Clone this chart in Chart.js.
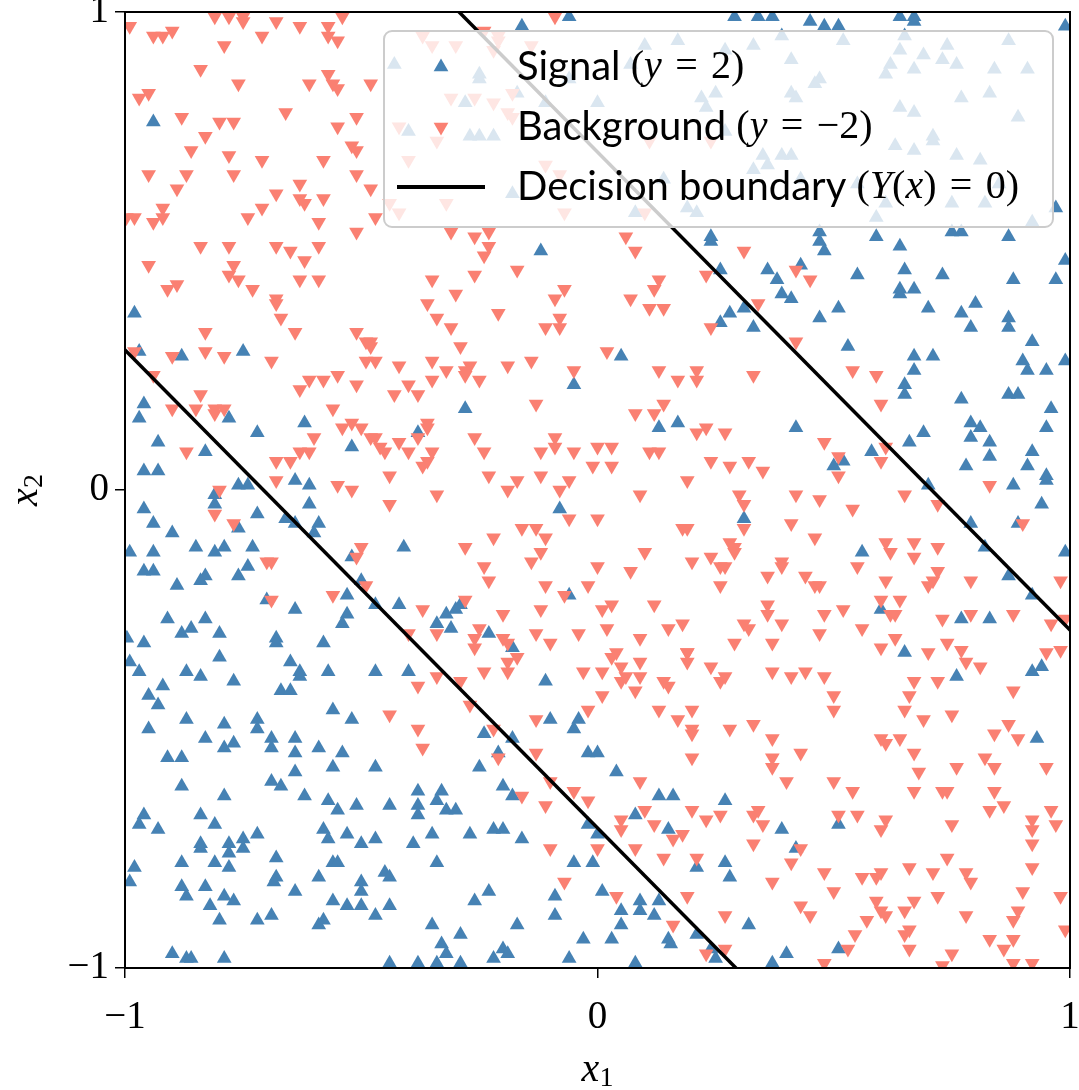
<!DOCTYPE html>
<html>
<head>
<meta charset="utf-8">
<script src="https://cdn.jsdelivr.net/npm/chart.js@4.4.0/dist/chart.umd.min.js"></script>
<style>
  html, body { margin: 0; padding: 0; background: #fff; }
</style>
</head>
<body>
<canvas id="scatter" width="1079" height="1090"></canvas>
<script>
// signal events (y = 2), [x1, x2]
const signalPoints = [
  [-0.94,0.77],[-0.98,0.37],
  [-0.06,0.99],[-0.16,0.97],[-0.12,0.50],[-0.43,0.89],[-0.25,0.87],[-0.25,0.86],[-0.28,0.81],[-0.40,0.75],
  [-0.27,0.74],[-0.25,0.74],[-0.22,0.74],[-0.18,0.62],[-0.17,0.83],[-0.11,0.81],[-0.06,0.86],[0.00,0.81],
  [0.29,0.99],[0.34,0.99],[0.37,0.99],[0.45,0.98],[0.48,0.97],[0.51,0.97],[0.17,0.94],[0.10,0.93],[0.27,0.92],
  [0.33,0.93],[0.39,0.95],[0.41,0.90],[0.47,0.86],[0.46,0.85],[0.07,0.89],[0.22,0.82],[0.25,0.83],[0.23,0.80],
  [0.41,0.83],[0.42,0.82],[0.27,0.75],[0.35,0.70],[0.33,0.67],[0.36,0.68],[0.39,0.70],[0.41,0.70],[0.43,0.65],
  [0.14,0.65],[0.08,0.58],[0.19,0.59],[0.21,0.58],[0.24,0.53],[0.24,0.52],[0.47,0.54],[0.47,0.52],[0.48,0.50],
  [0.26,0.46],[0.36,0.46],[0.38,0.44],[0.43,0.47],[0.39,0.41],[0.41,0.40],[0.31,0.38],[0.28,0.37],[0.26,0.35],
  [0.33,0.34],[0.51,0.38],[0.47,0.36],
  [0.64,0.99],[0.67,0.99],[0.67,0.98],[0.99,0.97],[0.52,0.94],[0.65,0.95],[0.64,0.92],[0.69,0.91],[0.74,0.93],
  [0.73,0.90],[0.76,0.89],[0.62,0.89],[0.61,0.87],[0.67,0.88],[0.87,0.94],[0.84,0.88],[0.91,0.88],[0.77,0.82],
  [0.83,0.83],[0.64,0.80],[0.67,0.79],[0.89,0.78],[0.71,0.74],[0.71,0.73],[0.63,0.72],[0.67,0.71],[0.76,0.70],
  [0.81,0.69],[0.55,0.64],[0.61,0.60],[0.59,0.57],[0.75,0.60],[0.82,0.60],[0.85,0.64],[0.92,0.56],[0.97,0.59],
  [0.59,0.53],[0.75,0.54],[0.77,0.54],[0.87,0.53],[0.64,0.51],[0.55,0.45],[0.65,0.46],[0.73,0.45],[0.88,0.44],
  [0.97,0.44],[0.64,0.42],[0.67,0.42],[0.64,0.41],[0.70,0.38],[0.80,0.39],[0.77,0.37],[0.87,0.36],[0.79,0.34],
  [0.87,0.34],[0.99,0.48],
  [-0.97,0.29],[-0.88,0.28],[-0.75,0.29],[-0.96,0.18],[-0.97,0.15],[-0.78,0.15],[-0.72,0.12],[-0.93,0.10],
  [-0.62,0.14],[-0.52,0.09],[-0.83,0.08],[-0.96,0.04],[-0.93,0.04],[-0.76,0.01],[-0.74,0.01],[-0.64,0.02],
  [-0.61,0.01],[-0.81,-0.01],[-0.81,-0.03],[-0.96,-0.04],[-0.94,-0.07],[-0.90,-0.09],[-0.72,-0.05],[-0.66,-0.06],
  [-0.64,-0.07],[-0.61,-0.03],[-0.59,-0.07],[-0.60,-0.09],[-0.76,-0.08],[-0.99,-0.13],[-0.94,-0.13],[-0.85,-0.12],
  [-0.81,-0.13],[-0.79,-0.12],[-0.73,-0.12],[-0.96,-0.17],[-0.94,-0.17],[-0.83,-0.18],[-0.84,-0.19],[-0.89,-0.20],
  [-0.76,-0.18],[-0.74,-0.16],[-0.53,-0.22],[-0.70,-0.23],[-0.64,-0.25],[-0.53,-0.26],[-0.54,-0.28],[-0.91,-0.27],
  [-0.83,-0.27],[-0.88,-0.30],[-0.86,-0.29],[-0.80,-0.30],[-0.68,-0.31],[-0.68,-0.32],[-0.58,-0.32],[-0.996,-0.31],
  [-0.96,-0.32],[-0.52,-0.14],[-0.50,-0.19],
  [-0.05,0.22],[-0.28,0.17],[-0.38,0.12],[-0.08,-0.04],[-0.41,-0.12],[-0.47,-0.24],[-0.42,-0.24],[-0.34,-0.28],
  [-0.32,-0.26],[-0.30,-0.25],[-0.29,-0.24],[-0.31,-0.29],[-0.23,-0.30],[-0.18,-0.33],[-0.06,-0.22],
  [0.05,0.28],[0.13,0.13],[0.17,0.14],[0.42,0.13],[0.50,0.05],[0.52,0.06],[0.31,-0.06],
  [0.53,0.30],[0.67,0.28],[0.67,0.25],[0.71,0.28],[0.90,0.27],[0.91,0.25],[0.92,0.31],[0.95,0.25],[0.99,0.27],
  [0.65,0.22],[0.65,0.20],[0.77,0.19],[0.87,0.20],[0.89,0.20],[0.96,0.17],[0.95,0.13],[0.79,0.14],[0.81,0.13],
  [0.79,0.11],[0.83,0.10],[0.83,0.07],[0.69,0.12],[0.66,0.10],[0.58,0.08],[0.78,0.05],[0.92,0.08],[0.91,0.05],
  [0.95,0.03],[0.95,0.02],[0.88,0.01],[0.70,0.01],[0.94,-0.03],[0.89,-0.07],[0.79,-0.07],[0.82,-0.12],[0.56,-0.13],
  [0.99,-0.13],[0.87,-0.18],[0.92,-0.22],[0.60,-0.25],[0.77,-0.27],[0.83,-0.27],[0.65,-0.34],
  [-0.99,-0.36],[-0.97,-0.38],[-0.87,-0.38],[-0.84,-0.39],[-0.80,-0.35],[-0.92,-0.41],[-0.77,-0.40],[-0.95,-0.43],
  [-0.93,-0.45],[-0.95,-0.50],[-0.87,-0.48],[-0.83,-0.52],[-0.79,-0.49],[-0.77,-0.53],[-0.79,-0.54],[-0.91,-0.56],
  [-0.88,-0.56],[-0.72,-0.48],[-0.72,-0.50],[-0.69,-0.52],[-0.69,-0.54],[-0.64,-0.52],[-0.64,-0.55],[-0.67,-0.42],
  [-0.65,-0.42],[-0.65,-0.36],[-0.63,-0.38],[-0.63,-0.39],[-0.57,-0.38],[-0.56,-0.46],[-0.52,-0.48],[-0.59,-0.54],
  [-0.54,-0.55],[-0.56,-0.58],[-0.64,-0.59],[-0.69,-0.61],[-0.67,-0.62],[-0.62,-0.64],[-0.57,-0.65],[-0.55,-0.67],
  [-0.51,-0.66],[-0.88,-0.62],[-0.79,-0.64],[-0.84,-0.68],[-0.81,-0.70],[-0.96,-0.68],[-0.97,-0.70],[-0.93,-0.71],
  [-0.84,-0.74],[-0.84,-0.75],[-0.78,-0.74],[-0.78,-0.76],[-0.75,-0.73],[-0.75,-0.75],[-0.72,-0.72],[-0.58,-0.71],
  [-0.57,-0.73],[-0.53,-0.72],[-0.50,-0.74],[-0.88,-0.78],[-0.81,-0.78],[-0.78,-0.79],[-0.68,-0.77],[-0.68,-0.81],
  [-0.685,-0.82],[-0.98,-0.79],[-0.99,-0.82],[-0.88,-0.83],[-0.87,-0.85],[-0.83,-0.83],[-0.82,-0.87],[-0.79,-0.85],
  [-0.77,-0.86],[-0.64,-0.84],[-0.59,-0.81],[-0.56,-0.78],[-0.55,-0.78],[-0.56,-0.86],[-0.53,-0.87],[-0.50,-0.87],
  [-0.50,-0.82],[-0.50,-0.84],[-0.80,-0.90],[-0.72,-0.90],[-0.69,-0.89],[-0.59,-0.91],[-0.58,-0.90],[-0.90,-0.97],
  [-0.87,-0.98],[-0.86,-0.98],[-0.79,-0.98],
  [-0.47,-0.38],[-0.40,-0.38],[-0.11,-0.40],[-0.10,-0.48],[-0.24,-0.51],[-0.18,-0.52],[-0.21,-0.55],[-0.04,-0.48],
  [-0.05,-0.50],[-0.02,-0.55],[0.00,-0.55],[-0.47,-0.58],[-0.25,-0.58],[-0.20,-0.62],[-0.18,-0.64],[-0.38,-0.63],
  [-0.33,-0.63],[-0.34,-0.65],[-0.38,-0.66],[-0.38,-0.68],[-0.32,-0.67],[-0.30,-0.67],[-0.44,-0.66],[-0.47,-0.73],
  [-0.39,-0.74],[-0.35,-0.72],[-0.27,-0.72],[-0.22,-0.71],[-0.20,-0.71],[-0.16,-0.73],[-0.34,-0.78],[-0.05,-0.78],
  [-0.01,-0.78],[-0.02,-0.70],[0.00,-0.72],[-0.45,-0.80],[-0.44,-0.81],[-0.44,-0.87],[-0.47,-0.89],[-0.26,-0.86],
  [-0.23,-0.84],[-0.09,-0.85],[-0.09,-0.89],[-0.17,-0.91],[-0.35,-0.91],[-0.29,-0.93],[-0.33,-0.95],[-0.32,-0.97],
  [-0.20,-0.96],[-0.19,-0.97],[-0.22,-0.98],[-0.03,-0.94],[-0.06,-0.98],[-0.44,-0.99],[-0.38,-0.99],[-0.34,-0.99],
  [-0.29,-0.99],[0.01,-0.84],
  [0.04,-0.59],[0.13,-0.64],[0.16,-0.64],[0.27,-0.65],[0.08,-0.68],[0.15,-0.71],[0.39,-0.71],[0.42,-0.75],
  [0.21,-0.79],[0.27,-0.78],[0.28,-0.81],[0.51,-0.70],[0.09,-0.86],[0.13,-0.86],[0.09,-0.88],[0.05,-0.88],
  [0.12,-0.89],[0.05,-0.91],[0.03,-0.94],[0.15,-0.94],[0.155,-0.95],[0.21,-0.93],[0.24,-0.96],[0.25,-0.98],
  [0.32,-0.91],[0.40,-0.97],[0.37,-0.99],[0.08,-0.99],[0.51,-0.96],
  [0.76,-0.39],[0.92,-0.38],[0.94,-0.37],[0.93,-0.52]
];

// background events (y = -2), [x1, x2]
const backgroundPoints = [
  [-0.99,0.97],[-0.94,0.95],[-0.92,0.95],[-0.90,0.96],[-0.81,0.99],[-0.78,0.99],[-0.75,0.99],[-0.75,0.98],
  [-0.68,0.98],[-0.63,0.97],[-0.57,0.97],[-0.57,0.95],[-0.55,0.94],[-0.54,0.99],[-0.79,0.93],[-0.71,0.95],
  [-0.84,0.88],[-0.76,0.85],[-0.61,0.85],[-0.57,0.87],[-0.56,0.85],[-0.55,0.84],[-0.97,0.82],[-0.95,0.83],
  [-0.66,0.79],[-0.88,0.78],[-0.80,0.77],[-0.77,0.77],[-0.55,0.76],[-0.51,0.78],[-0.83,0.74],[-0.86,0.71],
  [-0.52,0.72],[-0.51,0.71],[-0.78,0.70],[-0.71,0.69],[-0.58,0.69],[-0.95,0.66],[-0.87,0.66],[-0.77,0.66],
  [-0.51,0.66],[-0.89,0.63],[-0.63,0.64],[-0.68,0.62],[-0.63,0.61],[-0.62,0.60],[-0.58,0.61],[-0.92,0.59],
  [-0.92,0.57],[-0.98,0.57],[-0.997,0.57],[-0.94,0.56],[-0.74,0.57],[-0.71,0.59],[-0.59,0.56],[-0.51,0.54],
  [-0.84,0.51],[-0.78,0.51],[-0.68,0.51],[-0.65,0.50],[-0.62,0.48],[-0.59,0.51],[-0.95,0.47],[-0.77,0.47],
  [-0.78,0.45],[-0.76,0.44],[-0.73,0.42],[-0.63,0.44],[-0.59,0.44],[-0.91,0.42],[-0.89,0.43],[-0.68,0.40],
  [-0.68,0.39],[-0.67,0.36],[-0.83,0.33],[-0.64,0.33],[-0.51,0.33],
  [-0.48,0.85],[-0.09,0.99],[-0.24,0.96],[-0.48,0.63],[-0.47,0.57],[-0.31,0.54],[-0.26,0.53],[-0.23,0.54],
  [-0.23,0.51],[-0.24,0.49],[-0.17,0.46],[-0.26,0.45],[-0.35,0.44],[-0.30,0.41],[-0.36,0.39],[-0.21,0.37],
  [-0.09,0.40],[-0.07,0.42],[-0.34,0.36],[-0.31,0.34],[-0.08,0.36],[-0.11,0.34],[-0.08,0.34],
  [-0.37,0.95],[-0.35,0.93],[-0.30,0.93],[-0.31,0.82],[-0.26,0.82],[-0.42,0.76],[-0.34,0.73],[-0.40,0.69],
  [-0.32,0.60],[-0.44,0.60],[-0.42,0.58],[-0.21,0.95],[-0.21,0.94],[-0.22,0.92],[-0.22,0.81],[-0.19,0.79],
  [-0.18,0.78],[-0.18,0.83],[-0.14,0.93],[-0.11,0.68],[-0.08,0.66],[-0.07,0.58],
  [0.11,0.73],[0.24,0.73],[0.10,0.58],[0.06,0.53],[0.08,0.50],[0.31,0.50],[0.23,0.45],[0.42,0.46],[0.45,0.44],
  [0.13,0.44],[0.12,0.42],[0.07,0.40],[0.11,0.38],[0.14,0.38],[0.34,0.39],[0.24,0.34],
  [-0.98,0.29],[-0.90,0.28],[-0.83,0.29],[-0.79,0.28],[-0.69,0.27],[-0.94,0.24],[-0.84,0.20],[-0.85,0.17],
  [-0.90,0.17],[-0.81,0.17],[-0.79,0.17],[-0.81,0.16],[-0.63,0.21],[-0.61,0.23],[-0.58,0.23],[-0.55,0.24],
  [-0.51,0.22],[-0.56,0.17],[-0.54,0.13],[-0.52,0.14],[-0.50,0.13],[-0.60,0.11],[-0.63,0.08],[-0.61,0.08],
  [-0.68,0.06],[-0.65,0.06],[-0.68,0.02],[-0.87,0.08],[-0.80,0.00],[-0.81,-0.05],[-0.77,-0.07],[-0.55,0.01],
  [-0.52,0.00],[-0.70,-0.15],[-0.69,-0.15],[-0.56,-0.22],[-0.69,-0.23],[-0.50,-0.12],[-0.51,-0.14],
  [-0.49,0.31],[-0.48,0.31],[-0.48,0.30],[-0.49,0.27],[-0.47,0.27],[-0.42,0.26],[-0.35,0.27],[-0.32,0.25],
  [-0.29,0.30],[-0.27,0.26],[-0.28,0.25],[-0.28,0.24],[-0.25,0.23],[-0.19,0.26],[-0.14,0.27],[-0.05,0.25],
  [-0.40,0.22],[-0.38,0.20],[-0.43,0.20],[-0.35,0.23],[-0.13,0.18],[-0.36,0.14],[-0.36,0.13],[-0.38,0.11],
  [-0.48,0.11],[-0.47,0.11],[-0.46,0.09],[-0.45,0.08],[-0.42,0.10],[-0.40,0.08],[-0.35,0.08],[-0.36,0.06],
  [-0.37,0.05],[-0.26,0.11],[-0.24,0.08],[-0.23,0.03],[-0.44,0.03],[-0.34,-0.01],[-0.44,-0.03],[-0.19,0.00],
  [-0.17,0.02],[-0.12,0.03],[-0.12,0.08],[-0.09,0.11],[-0.09,0.09],[-0.05,0.08],[0.00,0.09],[-0.01,0.05],
  [-0.06,0.02],[-0.08,0.00],[-0.06,-0.06],[0.00,-0.06],[-0.16,-0.08],[-0.13,-0.08],[-0.11,-0.10],[-0.12,-0.13],
  [-0.14,-0.15],[-0.28,-0.12],[-0.22,-0.10],[-0.24,-0.16],[-0.23,-0.19],[-0.11,-0.20],[-0.02,-0.20],[0.00,-0.16],
  [-0.07,-0.22],[0.01,-0.25],[-0.12,-0.25],[-0.20,-0.26],[-0.37,-0.25],[-0.40,-0.30],[-0.34,-0.30],[-0.28,-0.23],
  [-0.25,-0.29],[-0.26,-0.31],[-0.26,-0.33],[-0.20,-0.31],[-0.19,-0.32],[-0.13,-0.30],[-0.10,-0.32],[-0.04,-0.30],
  [-0.49,-0.20],
  [0.02,0.29],[0.13,0.25],[0.17,0.23],[0.21,0.25],[0.21,0.23],[0.33,0.24],[0.08,0.16],[0.12,0.16],[0.14,0.18],
  [0.21,0.12],[0.23,0.13],[0.27,0.12],[0.42,0.31],[0.03,0.09],[0.03,0.05],[0.11,0.08],[0.13,0.08],[0.24,0.06],
  [0.28,0.05],[0.32,0.06],[0.35,0.04],[0.19,0.02],[0.09,-0.01],[0.30,-0.01],[0.31,-0.03],[0.42,-0.01],[0.47,-0.02],
  [0.48,0.10],[0.51,0.07],[0.51,0.03],[0.41,-0.07],[0.18,-0.08],[0.19,-0.08],[0.46,-0.10],[0.31,-0.08],[0.28,-0.11],
  [0.29,-0.12],[0.29,-0.13],[0.10,-0.13],[0.20,-0.15],[0.24,-0.14],[0.26,-0.16],[0.27,-0.16],[0.26,-0.20],
  [0.36,-0.18],[0.39,-0.15],[0.39,-0.16],[0.44,-0.18],[0.46,-0.20],[0.47,-0.20],[0.07,-0.17],[0.03,-0.24],
  [0.12,-0.24],[0.36,-0.24],[0.36,-0.26],[0.48,-0.26],[0.52,-0.25],[0.02,-0.29],[0.15,-0.29],[0.18,-0.28],
  [0.31,-0.28],[0.32,-0.29],[0.39,-0.28],[0.47,-0.30],[0.09,-0.31],[0.29,-0.32],[0.37,-0.32],[0.04,-0.34],[0.19,-0.34],
  [0.54,0.25],[0.59,0.24],[0.60,0.18],[0.60,0.06],[0.61,0.09],[0.65,-0.01],[0.54,-0.04],[0.72,-0.03],[0.83,0.01],
  [0.90,-0.07],[0.61,-0.11],[0.62,-0.13],[0.67,-0.11],[0.67,-0.14],[0.72,-0.12],[0.55,-0.16],[0.72,-0.17],
  [0.71,-0.19],[0.70,-0.20],[0.61,-0.19],[0.79,-0.19],[0.98,-0.19],[0.60,-0.23],[0.64,-0.23],[0.62,-0.26],
  [0.63,-0.26],[0.73,-0.27],[0.79,-0.26],[0.88,-0.26],[0.56,-0.29],[0.63,-0.31],[0.60,-0.33],[0.70,-0.34],
  [0.74,-0.32],[0.77,-0.335],[0.96,-0.28],[0.99,-0.27],[0.95,-0.34],[0.98,-0.335],
  [-0.19,-0.36],[-0.17,-0.35],[-0.19,-0.38],[-0.24,-0.38],[-0.38,-0.41],[-0.34,-0.39],[-0.29,-0.40],[-0.27,-0.45],
  [-0.44,-0.47],[-0.38,-0.50],[-0.37,-0.54],[-0.13,-0.48],[-0.22,-0.50],[-0.21,-0.56],[-0.13,-0.55],[-0.10,-0.61],
  [-0.16,-0.64],[-0.11,-0.66],[-0.05,-0.63],[-0.02,-0.65],[-0.03,-0.38],[0.01,-0.38],[0.01,-0.43],[-0.02,-0.46],
  [-0.10,-0.75],[0.00,-0.75],[-0.07,-0.82],
  [0.03,-0.35],[0.05,-0.37],[0.06,-0.39],[0.05,-0.40],[0.09,-0.36],[0.09,-0.39],[0.08,-0.42],[0.13,-0.46],
  [0.14,-0.40],[0.15,-0.41],[0.19,-0.34],[0.19,-0.36],[0.24,-0.37],[0.26,-0.40],[0.27,-0.39],[0.37,-0.38],
  [0.41,-0.39],[0.44,-0.38],[0.48,-0.39],[0.50,-0.43],[0.50,-0.46],[0.17,-0.48],[0.20,-0.46],[0.20,-0.50],
  [0.20,-0.51],[0.20,-0.56],[0.28,-0.50],[0.33,-0.49],[0.37,-0.52],[0.37,-0.56],[0.37,-0.58],[0.40,-0.61],
  [0.43,-0.55],[0.50,-0.61],[0.09,-0.61],[0.10,-0.67],[0.12,-0.70],[0.05,-0.69],[0.05,-0.71],[0.18,-0.72],
  [0.16,-0.73],[0.20,-0.67],[0.23,-0.69],[0.26,-0.68],[0.33,-0.68],[0.34,-0.67],[0.35,-0.70],[0.33,-0.74],
  [0.21,-0.77],[0.14,-0.77],[0.08,-0.75],[0.41,-0.78],[0.43,-0.75],[0.48,-0.80],[0.50,-0.84],[0.37,-0.82],
  [0.19,-0.85],[0.04,-0.85],[0.43,-0.87],[0.45,-0.89],[0.27,-0.89],[0.16,-0.91],[0.27,-0.96],[0.23,-0.97],
  [0.48,-0.99],[0.51,-0.68],
  [0.78,-0.36],[0.81,-0.37],[0.67,-0.40],[0.72,-0.40],[0.66,-0.43],[0.65,-0.46],[0.75,-0.47],[0.69,-0.48],
  [0.88,-0.42],[0.87,-0.49],[0.84,-0.51],[0.89,-0.52],[0.60,-0.52],[0.61,-0.53],[0.64,-0.52],[0.67,-0.55],
  [0.68,-0.59],[0.67,-0.63],[0.76,-0.58],[0.82,-0.56],[0.84,-0.58],[0.95,-0.58],[0.54,-0.63],[0.73,-0.63],
  [0.74,-0.63],[0.84,-0.63],[0.83,-0.67],[0.86,-0.66],[0.55,-0.68],[0.61,-0.69],[0.60,-0.71],[0.75,-0.70],
  [0.92,-0.69],[0.92,-0.71],[0.92,-0.74],[0.96,-0.67],[0.97,-0.70],[0.74,-0.77],[0.66,-0.79],[0.71,-0.80],
  [0.78,-0.80],[0.79,-0.82],[0.56,-0.81],[0.59,-0.81],[0.60,-0.80],[0.92,-0.79],[0.90,-0.84],[0.98,-0.85],
  [0.59,-0.86],[0.60,-0.88],[0.61,-0.89],[0.57,-0.90],[0.67,-0.86],[0.72,-0.85],[0.65,-0.88],[0.78,-0.89],
  [0.89,-0.88],[0.88,-0.90],[0.545,-0.93],[0.53,-0.96],[0.66,-0.92],[0.65,-0.93],[0.66,-0.96],[0.83,-0.94],
  [0.88,-0.94],[0.86,-0.96],[0.99,-0.92],[0.75,-0.97],[0.88,-0.99],[0.92,-0.99],[0.73,-0.995]
];

// decision boundary Y(x) = 0 : lines x1 + x2 = c
const boundaryOffsets = [-0.707, 0.707];
const boundaryX = [-2, 2];
const axisTicks = [-1, 0, 1];

const SANS = 'Lato, "DejaVu Sans", sans-serif';
const SERIF = '"Liberation Serif", "DejaVu Serif", serif';
const FS = 40;
const BLUE = '#4682b4';
const SALMON = '#fa8072';
const MARK = 8.5;

// thick math spaces around the equals sign
const EQ = '\u2004=\u2004';
const legendRows = [
  { kind: 'up', color: BLUE, runs: [
    { t: 'Signal ' }, { t: '(', s: 1 }, { t: 'y', s: 1, i: 1 }, { t: EQ + '2)', s: 1 } ] },
  { kind: 'down', color: SALMON, runs: [
    { t: 'Background ' }, { t: '(', s: 1 }, { t: 'y', s: 1, i: 1 }, { t: EQ + '\u22122)', s: 1 } ] },
  { kind: 'line', color: '#000', runs: [
    { t: 'Decision boundary ' }, { t: '(', s: 1 }, { t: 'Y', s: 1, i: 1 }, { t: '(', s: 1 },
    { t: 'x', s: 1, i: 1 }, { t: ')' + EQ + '0)', s: 1 } ] }
];

function setFont(ctx, r) {
  ctx.font = (r.i ? 'italic ' : '') + (r.size || FS) + 'px ' + (r.s ? SERIF : SANS);
}
function runsWidth(ctx, runs) {
  let w = 0;
  runs.forEach(r => { setFont(ctx, r); w += ctx.measureText(r.t).width; });
  return w;
}
function drawRuns(ctx, runs, x, y) {
  runs.forEach(r => {
    setFont(ctx, r);
    ctx.fillText(r.t, x, y + (r.dy || 0));
    x += ctx.measureText(r.t).width;
  });
}
function triangle(ctx, cx, cy, r, down) {
  const k = down ? -1 : 1;
  ctx.beginPath();
  ctx.moveTo(cx, cy - k * r);
  ctx.lineTo(cx + 0.866 * r, cy + k * r / 2);
  ctx.lineTo(cx - 0.866 * r, cy + k * r / 2);
  ctx.closePath();
  ctx.fill();
}

// full box around the plot area plus the axis titles
const framePlugin = {
  id: 'frame',
  afterDatasetsDraw(chart) {
    const { ctx, chartArea: a } = chart;
    ctx.save();
    ctx.strokeStyle = '#000';
    ctx.lineWidth = 2;
    ctx.strokeRect(a.left, a.top, a.right - a.left, a.bottom - a.top);
    ctx.fillStyle = '#000';
    ctx.textBaseline = 'middle';
    const xt = [{ t: 'x', s: 1, i: 1 }, { t: '1', s: 1, size: 28, dy: 9 }];
    const yt = [{ t: 'x', s: 1, i: 1 }, { t: '2', s: 1, size: 28, dy: 9 }];
    const cx = (a.left + a.right) / 2;
    drawRuns(ctx, xt, cx - runsWidth(ctx, xt) / 2, 1070);
    ctx.translate(26, (a.top + a.bottom) / 2);
    ctx.rotate(-Math.PI / 2);
    drawRuns(ctx, yt, -runsWidth(ctx, yt) / 2, 0);
    ctx.restore();
  }
};

// legend box in the upper right corner
const legendPlugin = {
  id: 'boxLegend',
  afterDraw(chart) {
    const ctx = chart.ctx;
    const L = 384, T = 31, R = 1053, B = 227, rad = 8;
    ctx.save();
    ctx.beginPath();
    ctx.moveTo(L + rad, T);
    ctx.arcTo(R, T, R, B, rad);
    ctx.arcTo(R, B, L, B, rad);
    ctx.arcTo(L, B, L, T, rad);
    ctx.arcTo(L, T, R, T, rad);
    ctx.closePath();
    ctx.fillStyle = 'rgba(255,255,255,0.8)';
    ctx.fill();
    ctx.strokeStyle = '#cccccc';
    ctx.lineWidth = 2;
    ctx.stroke();

    ctx.textBaseline = 'middle';
    legendRows.forEach((row, k) => {
      const y = 67 + k * 60;
      ctx.fillStyle = row.color;
      if (row.kind === 'line') {
        ctx.strokeStyle = row.color;
        ctx.lineWidth = 4;
        ctx.beginPath();
        ctx.moveTo(397, y);
        ctx.lineTo(485, y);
        ctx.stroke();
      } else {
        triangle(ctx, 441, y, MARK, row.kind === 'down');
      }
      ctx.fillStyle = '#000';
      drawRuns(ctx, row.runs, 517, y);
    });
    ctx.restore();
  }
};

const toXY = p => ({ x: p[0], y: p[1] });
const fmt = v => (v < 0 ? '\u2212' + Math.abs(v) : String(v));

const boundaryDatasets = boundaryOffsets.map(c => ({
  type: 'line',
  data: boundaryX.map(x => ({ x: x, y: c - x })),
  borderColor: '#000',
  borderWidth: 3.5,
  pointRadius: 0,
  fill: false,
  order: 1,
  clip: 0
}));

function axis(pos) {
  return {
    type: 'linear',
    position: pos,
    min: -1,
    max: 1,
    afterBuildTicks: s => { s.ticks = axisTicks.map(v => ({ value: v })); },
    ticks: {
      color: '#000',
      font: { family: SERIF, size: 39 },
      padding: pos === 'bottom' ? 16 : 6,
      maxRotation: 0,
      autoSkip: false,
      callback: fmt
    },
    grid: { drawOnChartArea: false, drawTicks: true, tickLength: 10, color: '#000', lineWidth: 1.5 },
    border: { display: false },
    afterFit: s => {
      if (pos === 'bottom') { s.height = 122; s.paddingLeft = 0; s.paddingRight = 0; }
      else { s.width = 125; s.paddingTop = 0; s.paddingBottom = 0; }
    }
  };
}

new Chart(document.getElementById('scatter'), {
  type: 'scatter',
  data: {
    datasets: [
      {
        label: 'Signal',
        data: signalPoints.map(toXY),
        pointStyle: 'triangle',
        pointRadius: MARK,
        backgroundColor: BLUE,
        borderWidth: 0,
        order: 3
      },
      {
        label: 'Background',
        data: backgroundPoints.map(toXY),
        pointStyle: 'triangle',
        rotation: 180,
        pointRadius: MARK,
        backgroundColor: SALMON,
        borderWidth: 0,
        order: 2
      },
      ...boundaryDatasets
    ]
  },
  options: {
    responsive: false,
    animation: false,
    layout: { padding: { top: 12, right: 9, left: 0, bottom: 0 } },
    plugins: { legend: { display: false }, tooltip: { enabled: false } },
    scales: { x: axis('bottom'), y: axis('left') }
  },
  plugins: [framePlugin, legendPlugin]
});
</script>
</body>
</html>
